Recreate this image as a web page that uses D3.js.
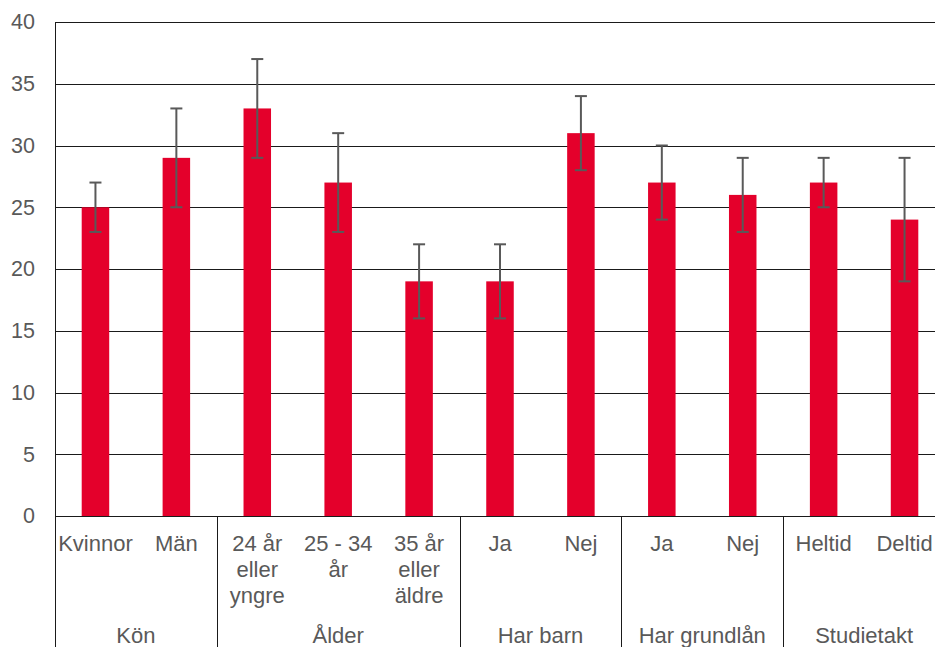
<!DOCTYPE html>
<html>
<head>
<meta charset="utf-8">
<script src="https://cdn.jsdelivr.net/npm/d3@7/dist/d3.min.js"></script>
<style>
  body { margin: 0; background: #fff; }
  svg { display: block; }
  text { font-family: "Liberation Sans", Arial, sans-serif; fill: #595959; }
</style>
</head>
<body>
<script>
// categories, one per bar (lines of the label split by "|")
var categories = ["Kvinnor", "Män", "24 år|eller|yngre", "25 - 34|år", "35 år|eller|äldre",
                  "Ja", "Nej", "Ja", "Nej", "Heltid", "Deltid"];
var values = [25, 29, 33, 27, 19, 19, 31, 27, 26, 27, 24];
var errLow = [23, 25, 29, 23, 16, 16, 28, 24, 23, 25, 19];
var errHigh = [27, 33, 37, 31, 22, 22, 34, 30, 29, 29, 29];

// groups below the categories: name and how many bars it covers
var groups = ["Kön", "Ålder", "Har barn", "Har grundlån", "Studietakt"];
var groupSizes = [2, 3, 2, 2, 2];

var yTicks = [0, 5, 10, 15, 20, 25, 30, 35, 40];

var W = 935, H = 647;
// (window.top is read-only, so no "top" here)
var plotL = 55, plotR = 945, plotT = 22, plotB = 516;

var svg = d3.select("body").append("svg")
    .attr("width", W)
    .attr("height", H);

var x = d3.scaleBand()
    .domain(d3.range(categories.length))
    .range([plotL, plotR])
    .padding(0);

var y = d3.scaleLinear()
    .domain([0, 40])
    .range([plotB, plotT]);

var barW = x.bandwidth() * 0.34;

// gridlines
svg.append("g")
  .selectAll("line")
  .data(yTicks)
  .enter().append("line")
    .attr("x1", plotL)
    .attr("x2", plotR)
    .attr("y1", function(d) { return Math.round(y(d)) + 0.5; })
    .attr("y2", function(d) { return Math.round(y(d)) + 0.5; })
    .attr("stroke", "#1a1a1a")
    .attr("stroke-width", 1);

// y axis tick labels
var yAxis = d3.axisLeft(y).tickValues(yTicks).tickSize(0).tickPadding(20);
var ya = svg.append("g")
    .attr("transform", "translate(" + plotL + ",0)")
    .call(yAxis);
ya.select(".domain").remove();
ya.selectAll("text")
    .attr("fill", "#595959")
    .style("font-size", "21.5px")
    .style("font-family", "'Liberation Sans', Arial, sans-serif");

// bars
svg.append("g")
  .selectAll("rect")
  .data(values)
  .enter().append("rect")
    .attr("x", function(d, i) { return x(i) + x.bandwidth() / 2 - barW / 2; })
    .attr("y", function(d) { return y(d); })
    .attr("width", barW)
    .attr("height", function(d) { return y(0) - y(d); })
    .attr("fill", "#e4002b");

// error bars
var eb = svg.append("g")
    .attr("stroke", "#595959")
    .attr("stroke-width", 2);
values.forEach(function(v, i) {
    var cx = x(i) + x.bandwidth() / 2;
    eb.append("line")
        .attr("x1", cx).attr("x2", cx)
        .attr("y1", y(errLow[i])).attr("y2", y(errHigh[i]));
    [errLow[i], errHigh[i]].forEach(function(e) {
        eb.append("line")
            .attr("x1", cx - 6).attr("x2", cx + 6)
            .attr("y1", y(e)).attr("y2", y(e));
    });
});

// left axis line, runs down through the label area
svg.append("line")
    .attr("x1", plotL + 0.5).attr("x2", plotL + 0.5)
    .attr("y1", plotT).attr("y2", H)
    .attr("stroke", "#1a1a1a");

// group separators
var idx = 0;
var bounds = [0];
groupSizes.forEach(function(s) { idx += s; bounds.push(idx); });
bounds.forEach(function(b) {
    var bx = b < categories.length ? x(b) : plotR;
    svg.append("line")
        .attr("x1", Math.round(bx) + 0.5).attr("x2", Math.round(bx) + 0.5)
        .attr("y1", plotB).attr("y2", H)
        .attr("stroke", "#1a1a1a");
});

// category labels
var cl = svg.append("g");
categories.forEach(function(c, i) {
    var cx = x(i) + x.bandwidth() / 2;
    var t = cl.append("text")
        .attr("text-anchor", "middle")
        .style("font-size", "22px");
    c.split("|").forEach(function(line, k) {
        t.append("tspan")
            .attr("x", cx)
            .attr("y", 551 + k * 26)
            .text(line);
    });
});

// group labels
groups.forEach(function(g, k) {
    var x0 = x(bounds[k]);
    var x1 = bounds[k + 1] < categories.length ? x(bounds[k + 1]) : plotR;
    svg.append("text")
        .attr("text-anchor", "middle")
        .attr("x", (x0 + x1) / 2)
        .attr("y", 643)
        .style("font-size", "22px")
        .text(g);
});
</script>
</body>
</html>
